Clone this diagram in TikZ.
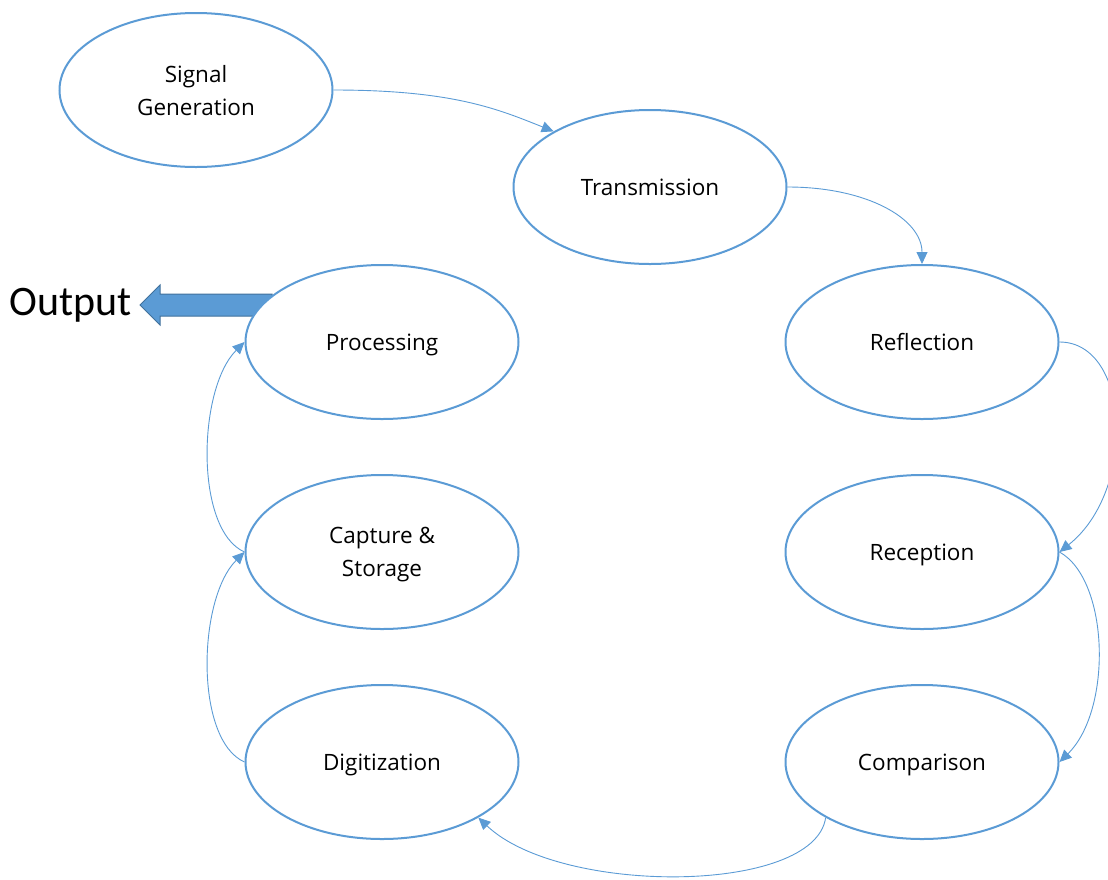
\documentclass[tikz,border=0pt]{standalone}
\usepackage{fontspec}
\setmainfont{Open Sans}
\newfontfamily\outfont{Carlito}
\usetikzlibrary{arrows.meta,shapes.geometric}
\definecolor{stepblue}{HTML}{5B9BD5}
\definecolor{arrowedge}{HTML}{41719C}
\begin{document}
\begin{tikzpicture}[x=1pt,y=-1pt,
  stage/.style={ellipse, draw=stepblue, line width=2pt, fill=white,
    minimum width=273pt, minimum height=154pt, inner sep=0pt, align=center,
    text depth=0pt, font=\fontsize{22.5}{33}\selectfont},
  link/.style={draw=stepblue, line width=0.9pt,
    -{Triangle[length=12pt,width=11pt]}},
  bigarrow/.style={fill=stepblue, draw=arrowedge, line width=1pt}]
\useasboundingbox (0,0) rectangle (1108,879);

% output arrow, partly hidden behind the Processing stage
\filldraw[bigarrow] (140,305) -- (160,285) -- (160,294) -- (272,294)
  -- (272,316) -- (160,316) -- (160,325) -- cycle;
\node[font=\outfont\fontsize{42}{50}\selectfont] (out) at (71,305) {Output};

% stages
\node[stage] (sig) at (196,90)  {Signal\\Generation};
\node[stage] (tra) at (650,187) {Transmission};
\node[stage] (ref) at (922,342) {Reflection};
\node[stage] (rec) at (922,552) {Reception};
\node[stage] (com) at (922,762) {Comparison};
\node[stage] (dig) at (382,762) {Digitization};
\node[stage] (cap) at (382,552) {Capture \&\\Storage};
\node[stage] (pro) at (382,342) {Processing};

% connectors
\draw[link] (sig.east) .. controls +(120,0) and +(-55,-22) .. (tra.150);
\draw[link] (tra.east) .. controls +(80,0) and +(0,-45) .. (ref.north);
\draw[link] (ref.east) .. controls +(71,0) and +(78,-62) .. (rec.east);
\draw[link] (rec.east) .. controls +(50,28) and +(53,-52) .. (com.east);
\draw[link] (com.210) .. controls +(-11,77) and +(82,78) .. (dig.330);
\draw[link] (dig.west) .. controls +(-50,-22) and +(-47,47) .. (cap.west);
\draw[link] (cap.west) .. controls +(-50,-22) and +(-47,47) .. (pro.west);
\end{tikzpicture}
\end{document}
